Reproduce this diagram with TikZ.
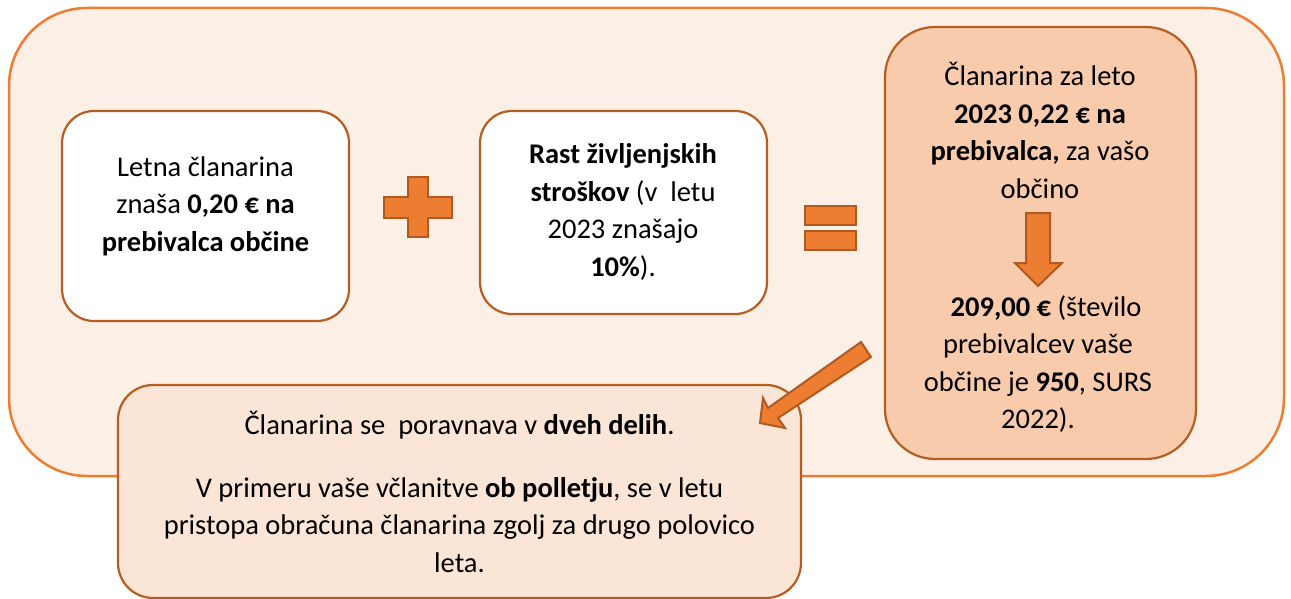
\documentclass[tikz,border=0pt]{standalone}
\usepackage{fontspec}
\setmainfont{Carlito}
\definecolor{outerfill}{HTML}{FCEFE6}
\definecolor{outerline}{HTML}{ED7D31}
\definecolor{boxline}{HTML}{B65D22}
\definecolor{rightfill}{HTML}{F8CBAD}
\definecolor{bottomfill}{HTML}{FBE5D6}
\definecolor{symfill}{HTML}{ED7D31}
\definecolor{symline}{HTML}{AE5A21}
\tikzset{
  panel/.style={draw=boxline, line width=2.2pt, inner sep=0pt, rectangle},
  txt/.style={align=center, inner sep=0pt, font=\fontsize{28.5}{37.5}\selectfont, text=black},
  sym/.style={fill=symfill, draw=symline, line width=2.5pt, line join=miter},
}
\begin{document}
\begin{tikzpicture}[x=1pt,y=-1pt]
\useasboundingbox (0,0) rectangle (1291,599);
% outer panel
\node[draw=outerline, fill=outerfill, line width=2.5pt, inner sep=0pt, rounded corners=78pt,
      minimum width=1275pt, minimum height=468pt] (outer) at (646.5,242) {};
% left boxes
\node[panel, fill=white, rounded corners=32pt, minimum width=287pt, minimum height=210pt] (b1) at (205.5,216) {};
\node[panel, fill=white, rounded corners=32pt, minimum width=287pt, minimum height=203pt] (b2) at (623.5,212.5) {};
% right box
\node[panel, fill=rightfill, rounded corners=50pt, minimum width=311pt, minimum height=432pt] (b3) at (1040.5,243) {};
% bottom box
\node[panel, fill=bottomfill, rounded corners=35pt, minimum width=683pt, minimum height=213pt] (b4) at (459.5,491.5) {};
% texts
\node[txt] (t1) at (205.5,206) {Letna članarina\\znaša \textbf{0,20 € na}\\\textbf{prebivalca občine}};
\node[txt] (t2) at (623,212) {\textbf{Rast življenjskih}\\\textbf{stroškov} (v\ \ letu\\2023 znašajo\\\textbf{10\%}).};
\node[txt] (t3) at (1040,130.5) {Članarina za leto\\\textbf{2023 0,22 € na}\\\textbf{prebivalca,} za vašo\\občino};
\node[txt] (t4) at (1038,364) {\hspace*{16pt}\textbf{209,00 €} (število\\prebivalcev vaše\\občine je \textbf{950}, SURS\\2022).};
\node[txt] (t5) at (459.5,425) {Članarina se\ \ poravnava v \textbf{dveh delih}.};
\node[txt] (t6) at (459.5,525) {V primeru vaše včlanitve \textbf{ob polletju}, se v letu\\pristopa obračuna članarina zgolj za drugo polovico\\leta.};
% plus sign
\draw[sym] (408,177) -- (428,177) -- (428,197) -- (452,197) -- (452,218) -- (428,218)
  -- (428,237) -- (408,237) -- (408,218) -- (384,218) -- (384,197) -- (408,197) -- cycle;
% equals sign
\draw[sym] (805,206) rectangle (856,225);
\draw[sym] (805,231) rectangle (856,250);
% down arrow
\draw[sym, line width=2pt] (1026,213) -- (1050,213) -- (1050,263) -- (1062,263) -- (1038,286)
  -- (1015,263) -- (1026,263) -- cycle;
% diagonal arrow
\draw[sym, line width=2pt] (861,342) -- (768,408) -- (763,398) -- (760,423) -- (785,428)
  -- (778,418) -- (871,357) -- cycle;
\end{tikzpicture}
\end{document}
